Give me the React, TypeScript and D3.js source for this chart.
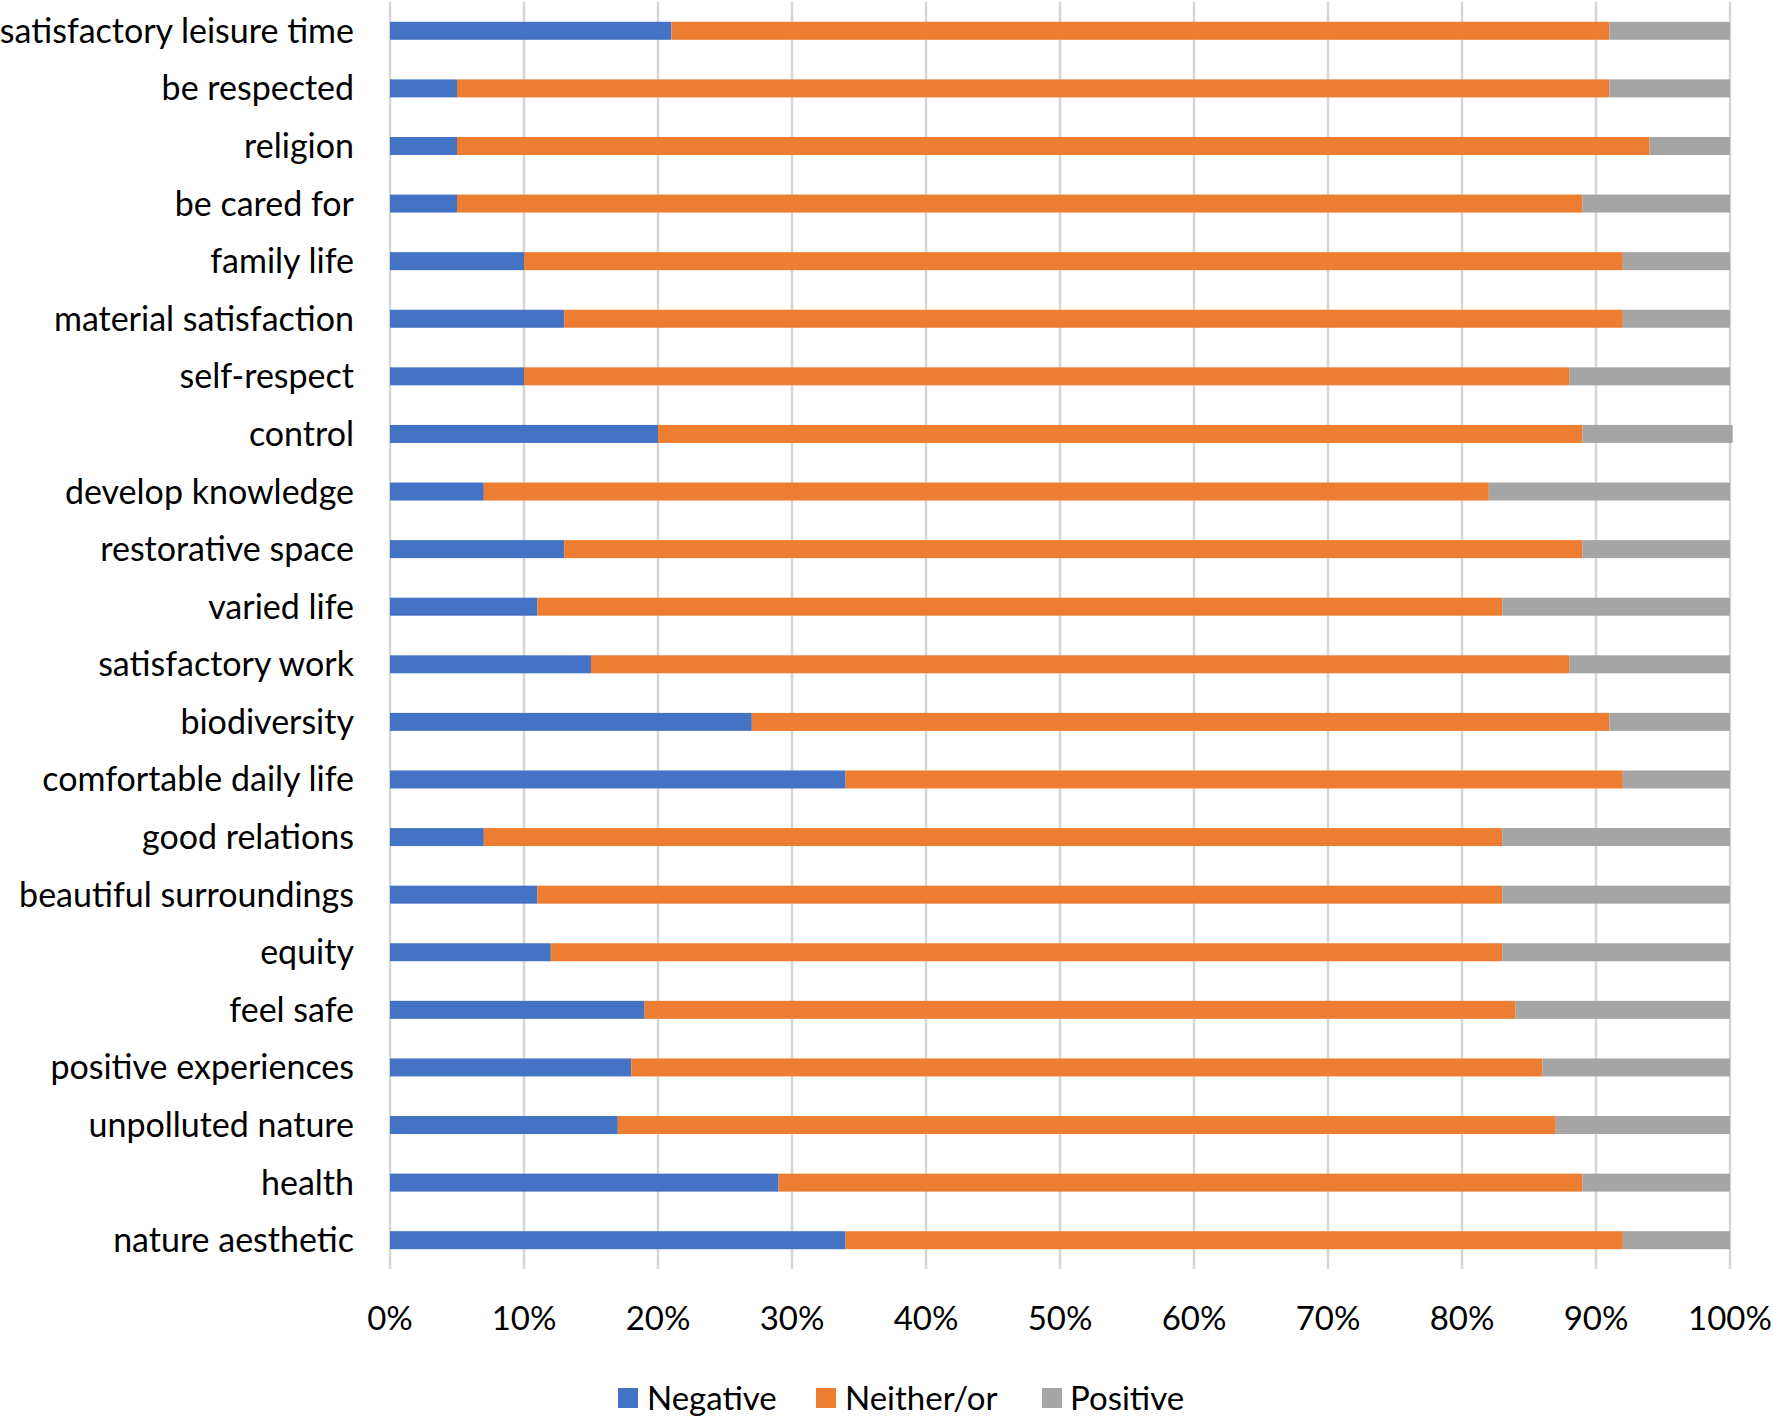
import React from "react";
import * as d3 from "d3";

const categories = [
  "satisfactory leisure time",
  "be respected",
  "religion",
  "be cared for",
  "family life",
  "material satisfaction",
  "self-respect",
  "control",
  "develop knowledge",
  "restorative space",
  "varied life",
  "satisfactory work",
  "biodiversity",
  "comfortable daily life",
  "good relations",
  "beautiful surroundings",
  "equity",
  "feel safe",
  "positive experiences",
  "unpolluted nature",
  "health",
  "nature aesthetic",
];

const negative = [21, 5, 5, 5, 10, 13, 10, 20, 7, 13, 11, 15, 27, 34, 7, 11, 12, 19, 18, 17, 29, 34];
const neither = [70, 86, 89, 84, 82, 79, 78, 69, 75, 76, 72, 73, 64, 58, 76, 72, 71, 65, 68, 70, 60, 58];
const positive = [9, 9, 6, 11, 8, 8, 12, 11.2, 18, 11, 17, 12, 9, 8, 17, 17, 17, 16, 14, 13, 11, 8];

const seriesNames = ["Negative", "Neither/or", "Positive"];
const seriesColors = ["#4472C4", "#ED7D31", "#A5A5A5"];
const xTicks = [0, 10, 20, 30, 40, 50, 60, 70, 80, 90, 100];

const W = 1773;
const H = 1420;
const FONT = "Lato, 'Open Sans', sans-serif";

export default function App() {
  const x = d3.scaleLinear().domain([0, 100]).range([390, 1730]);
  const y = d3.scaleBand<string>().domain(categories).range([2, 1269]).padding(0);
  const barH = 18;

  const rows = categories.map((c, i) => ({
    key: c,
    neg: negative[i],
    nei: neither[i],
    pos: positive[i],
  }));
  const stack = d3.stack<any>().keys(["neg", "nei", "pos"])(rows);

  const legendItems = [
    { sq: 618, tx: 647 },
    { sq: 816, tx: 845 },
    { sq: 1042, tx: 1070 },
  ];

  return (
    <svg
      width={W}
      height={H}
      style={{ position: "absolute", left: 0, top: 0, background: "#fff" }}
      fontFamily={FONT}
    >
      <rect x={0} y={0} width={W} height={H} fill="#fff" />
      {xTicks.map((t) => (
        <line
          key={"g" + t}
          x1={x(t)}
          x2={x(t)}
          y1={2}
          y2={1269}
          stroke="#D6D6D6"
          strokeWidth={2.5}
        />
      ))}
      {stack.map((s, si) => (
        <g key={"s" + si} fill={seriesColors[si]}>
          {s.map((d, i) => (
            <rect
              key={i}
              x={x(d[0])}
              width={x(d[1]) - x(d[0])}
              y={(y(categories[i]) as number) + y.bandwidth() / 2 - barH / 2}
              height={barH}
            />
          ))}
        </g>
      ))}
      {categories.map((c) => (
        <text
          key={"l" + c}
          x={354}
          y={(y(c) as number) + y.bandwidth() / 2 - 1.5}
          textAnchor="end"
          dominantBaseline="central"
          fontSize={34}
          fill="#000"
        >
          {c}
        </text>
      ))}
      {xTicks.map((t) => (
        <text
          key={"t" + t}
          x={x(t)}
          y={1317}
          textAnchor="middle"
          dominantBaseline="central"
          fontSize={33}
          fill="#000"
        >
          {t + "%"}
        </text>
      ))}
      {seriesNames.map((n, i) => (
        <g key={"lg" + n}>
          <rect x={legendItems[i].sq} y={1388} width={20} height={20} fill={seriesColors[i]} />
          <text
            x={legendItems[i].tx}
            y={1397}
            dominantBaseline="central"
            fontSize={33}
            fill="#000"
          >
            {n}
          </text>
        </g>
      ))}
    </svg>
  );
}
